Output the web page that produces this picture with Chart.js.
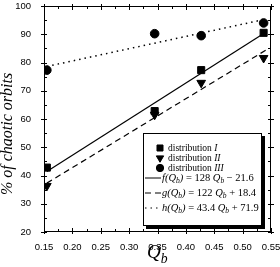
<!DOCTYPE html>
<html>
<head>
<meta charset="utf-8">
<script src="https://cdn.jsdelivr.net/npm/chart.js@4.4.1/dist/chart.umd.min.js"></script>
<style>
  html, body { margin: 0; padding: 0; background: #fff; }
  #wrap { width: 280px; height: 267px; }
</style>
</head>
<body>
<div id="wrap"><canvas id="grafico"></canvas></div>
<script>
// valores
var qb = [0.155, 0.345, 0.427, 0.537];
var dist1 = [42.8, 62.8, 77.3, 90.5];
var dist2 = [36.3, 61.5, 72.8, 81.6];
var dist3 = [77.3, 90.2, 89.5, 94.0];

// extremos das retas ajustadas
var retaX = [0.155, 0.542];
var retaF = [41.4, 90.9];
var retaG = [37.3, 84.5];
var retaH = [78.6, 95.4];

var legendas = [
  [["distribution ", "n"], ["I", "i"]],
  [["distribution ", "n"], ["II", "i"]],
  [["distribution ", "n"], ["III", "i"]],
  [["f(Q", "i"], ["b", "s"], [")", "i"], [" = 128 ", "n"], ["Q", "i"], ["b", "s"], [" \u2212 21.6", "n"]],
  [["g(Q", "i"], ["b", "s"], [")", "i"], [" = 122 ", "n"], ["Q", "i"], ["b", "s"], [" + 18.4", "n"]],
  [["h(Q", "i"], ["b", "s"], [")", "i"], [" = 43.4 ", "n"], ["Q", "i"], ["b", "s"], [" + 71.9", "n"]],
];

function pontos(xs, ys) {
  var arr = [];
  for (var i = 0; i < xs.length; i++) {
    arr.push({ x: xs[i], y: ys[i] });
  }
  return arr;
}

var SERIF = "'Liberation Serif', 'DejaVu Serif', serif";

function textoRico(ctx, x, y, partes, tam) {
  for (var i = 0; i < partes.length; i++) {
    var t = partes[i][0];
    var s = partes[i][1];
    var dy = 0;
    if (s == "n") ctx.font = tam + "px " + SERIF;
    else if (s == "i") ctx.font = "italic " + tam + "px " + SERIF;
    else {
      ctx.font = "italic " + (tam * 0.72) + "px " + SERIF;
      dy = tam * 0.28;
    }
    ctx.fillText(t, x, y + dy);
    x += ctx.measureText(t).width;
  }
}

var molduraPlugin = {
  id: "moldura",
  afterDraw: function (chart) {
    var ctx = chart.ctx;
    var ca = chart.chartArea;
    var sx = chart.scales.x;
    var sy = chart.scales.y;
    ctx.save();
    ctx.strokeStyle = "#000";
    ctx.lineWidth = 1;
    ctx.strokeRect(ca.left + 0.5, ca.top + 0.5, ca.right - ca.left - 1, ca.bottom - ca.top - 1);

    // ticks (os maiores cruzam o eixo)
    ctx.beginPath();
    for (var v = 0.15; v <= 0.5501; v += 0.025) {
      var px = Math.round(sx.getPixelForValue(v)) + 0.5;
      var maior = Math.abs(v * 20 - Math.round(v * 20)) < 0.01;
      var len = maior ? 4 : 3;
      var fora = maior ? 2 : 0;
      ctx.moveTo(px, ca.bottom + fora); ctx.lineTo(px, ca.bottom - len);
      ctx.moveTo(px, ca.top - fora); ctx.lineTo(px, ca.top + len);
    }
    for (var w = 20; w <= 100; w += 5) {
      var py = Math.round(sy.getPixelForValue(w)) + 0.5;
      var maior2 = (w % 10 == 0);
      var len2 = maior2 ? 3 : 3;
      var fora2 = maior2 ? 3 : 0;
      ctx.moveTo(ca.left - fora2, py); ctx.lineTo(ca.left + len2, py);
      ctx.moveTo(ca.right + fora2, py); ctx.lineTo(ca.right - len2, py);
    }
    ctx.stroke();

    // titulo do eixo y
    ctx.fillStyle = "#000";
    ctx.save();
    ctx.translate(12, 134);
    ctx.rotate(-Math.PI / 2);
    ctx.font = "italic 16px " + SERIF;
    ctx.textAlign = "center";
    ctx.textBaseline = "alphabetic";
    ctx.fillText("% of chaotic orbits", 0, 0);
    ctx.restore();

    // titulo do eixo x
    ctx.textAlign = "left";
    ctx.textBaseline = "alphabetic";
    textoRico(ctx, 147, 258, [["Q", "i"], ["b", "s"]], 19);

    // legenda com sombra
    var lw = 118, lh = 92;
    var lx = ca.right - 10 - lw;
    var ly = ca.bottom - 7 - lh;
    ctx.fillStyle = "#000";
    ctx.fillRect(lx + 3, ly + 3, lw + 1, lh + 1);
    ctx.fillStyle = "#fff";
    ctx.fillRect(lx, ly, lw, lh);
    ctx.strokeStyle = "#000";
    ctx.lineWidth = 1;
    ctx.strokeRect(lx + 0.5, ly + 0.5, lw, lh);
    var linhasY = [15, 25, 35, 45, 60, 75];
    var estilos = chart.data.datasets;
    ctx.fillStyle = "#000";
    for (var k = 0; k < legendas.length; k++) {
      var yy = ly + linhasY[k];
      var ds = estilos[k];
      if (k < 3) {
        Chart.helpers.drawPoint(ctx, {
          pointStyle: ds.pointStyle,
          rotation: ds.rotation || 0,
          radius: ds.pointRadius * 0.85,
          borderWidth: 1,
        }, lx + 17, yy);
        ctx.fillStyle = "#000";
        ctx.strokeStyle = "#000";
        ctx.textBaseline = "middle";
        textoRico(ctx, lx + 25, yy, legendas[k], 9.5);
      } else {
        ctx.beginPath();
        ctx.setLineDash(ds.borderDash || []);
        ctx.lineWidth = 1;
        ctx.moveTo(lx + 2, yy);
        ctx.lineTo(lx + 18, yy);
        ctx.stroke();
        ctx.setLineDash([]);
        ctx.textBaseline = "middle";
        textoRico(ctx, lx + 19, yy, legendas[k], 10.5);
      }
    }
    ctx.restore();
  },
};

const g_caos = document.getElementById("grafico");

new Chart(g_caos, {
  type: "scatter",
  data: {
    datasets: [
      {
        label: "distribution I",
        data: pontos(qb, dist1),
        pointStyle: "rect",
        pointRadius: 5,
        backgroundColor: "#000",
        borderColor: "#000",
      },
      {
        label: "distribution II",
        data: pontos(qb, dist2),
        pointStyle: "triangle",
        rotation: 180,
        pointRadius: 5,
        backgroundColor: "#000",
        borderColor: "#000",
      },
      {
        label: "distribution III",
        data: pontos(qb, dist3),
        pointStyle: "circle",
        pointRadius: 4.3,
        backgroundColor: "#000",
        borderColor: "#000",
      },
      {
        label: "f",
        data: pontos(retaX, retaF),
        showLine: true,
        pointRadius: 0,
        borderColor: "#000",
        borderWidth: 1.2,
      },
      {
        label: "g",
        data: pontos(retaX, retaG),
        showLine: true,
        pointRadius: 0,
        borderColor: "#000",
        borderWidth: 1.2,
        borderDash: [6, 4],
      },
      {
        label: "h",
        data: pontos(retaX, retaH),
        showLine: true,
        pointRadius: 0,
        borderColor: "#000",
        borderWidth: 1.5,
        borderDash: [1.5, 4],
      },
    ],
  },
  options: {
    responsive: true,
    maintainAspectRatio: false,
    animation: false,
    layout: { padding: { top: 4, right: 9, left: 0, bottom: 0 } },
    plugins: {
      legend: { display: false },
      tooltip: { enabled: false },
    },
    scales: {
      x: {
        type: "linear",
        min: 0.15,
        max: 0.55,
        grid: { display: false },
        border: { display: false },
        afterFit: function (scale) {
          scale.height = 35;
          scale.paddingLeft = 0;
          scale.paddingRight = 0;
        },
        ticks: {
          stepSize: 0.05,
          padding: 2,
          maxRotation: 0,
          color: "#000",
          font: { family: "'Liberation Sans', Arial, sans-serif", size: 9.5 },
          callback: function (v) { return Number(v).toFixed(2); },
        },
      },
      y: {
        min: 20,
        max: 100,
        grid: { display: false },
        border: { display: false },
        afterFit: function (scale) {
          scale.width = 44;
          scale.paddingTop = 0;
          scale.paddingBottom = 0;
        },
        ticks: {
          stepSize: 10,
          padding: 5,
          color: "#000",
          font: { family: "'Liberation Sans', Arial, sans-serif", size: 9.5 },
        },
      },
    },
  },
  plugins: [molduraPlugin],
});
</script>
</body>
</html>
